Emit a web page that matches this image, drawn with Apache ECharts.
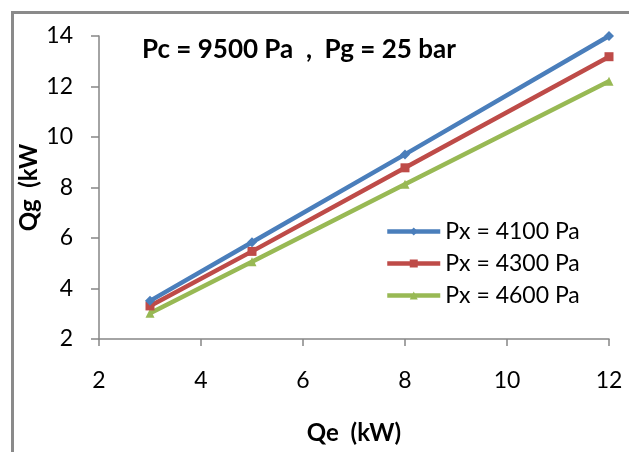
<!DOCTYPE html>
<html>
<head>
<meta charset="utf-8">
<script src="https://cdn.jsdelivr.net/npm/echarts@6/dist/echarts.min.js"></script>
<style>
html,body{margin:0;padding:0;background:#fff;}
#c{width:629px;height:452px;}
</style>
</head>
<body>
<div id="c"></div>
<script>
const qe = [3, 5, 8, 12];
const px4100 = [3.51, 5.83, 9.31, 14.0];
const px4300 = [3.31, 5.47, 8.78, 13.18];
const px4600 = [3.02, 5.06, 8.13, 12.21];
const seriesNames = ['Px = 4100 Pa', 'Px = 4300 Pa', 'Px = 4600 Pa'];
const titleText = 'Pc = 9500 Pa  ,  Pg = 25 bar';
const xName = 'Qe  (kW)';
const yName = 'Qg  (kW';

const FONT = 'Lato, "Open Sans", sans-serif';
const colors = ['#4A7EBB', '#BE4B48', '#98B954'];
const symbols = ['diamond', 'rect', 'triangle'];
const sets = [px4100, px4300, px4600];

const chart = echarts.init(document.getElementById('c'), null, {renderer: 'canvas'});
chart.setOption({
  animation: false,
  backgroundColor: '#fff',
  title: {
    text: titleText,
    left: 137, top: 32,
    textStyle: {fontFamily: FONT, fontWeight: 'bold', fontSize: 26, color: '#000'}
  },
  graphic: [{
    type: 'rect', silent: true,
    shape: {x: 12.5, y: 12.5, width: 700, height: 600},
    style: {fill: 'none', stroke: '#8a8a8a', lineWidth: 3}
  }],
  legend: {
    orient: 'vertical',
    left: 380, top: 215,
    itemWidth: 53, itemHeight: 10,
    itemGap: 9,
    lineStyle: {width: 4.5},
    textStyle: {fontFamily: FONT, fontSize: 23, color: '#000'},
    data: seriesNames
  },
  grid: {left: 99, right: 20, top: 36, bottom: 113},
  xAxis: {
    type: 'value', min: 2, max: 12, interval: 2,
    name: xName, nameLocation: 'middle', nameGap: 82, nameMoveOverlap: false,
    nameTextStyle: {fontFamily: FONT, fontWeight: 'bold', fontSize: 24, color: '#000'},
    axisLine: {lineStyle: {color: '#868686', width: 1.5}},
    axisTick: {inside: false, length: 7, lineStyle: {color: '#868686', width: 1.5}},
    axisLabel: {fontFamily: FONT, fontSize: 23, color: '#000', margin: 30},
    splitLine: {show: false}
  },
  yAxis: {
    type: 'value', min: 2, max: 14, interval: 2,
    name: yName, nameLocation: 'middle', nameGap: 58, nameRotate: 90, nameMoveOverlap: false,
    nameTextStyle: {fontFamily: FONT, fontWeight: 'bold', fontSize: 24, color: '#000'},
    axisLine: {show: true, lineStyle: {color: '#868686', width: 1.5}},
    axisTick: {show: true, inside: false, length: 8, lineStyle: {color: '#868686', width: 1.5}},
    axisLabel: {fontFamily: FONT, fontSize: 23, color: '#000', margin: 26},
    splitLine: {show: false}
  },
  series: sets.map((arr, i) => ({
    name: seriesNames[i],
    type: 'line',
    data: qe.map((x, j) => [x, arr[j]]),
    symbol: symbols[i],
    symbolSize: i === 0 ? 10 : 9,
    lineStyle: {color: colors[i], width: 4.5},
    itemStyle: {color: colors[i]},
    z: 3 - i
  }))
});
</script>
</body>
</html>
